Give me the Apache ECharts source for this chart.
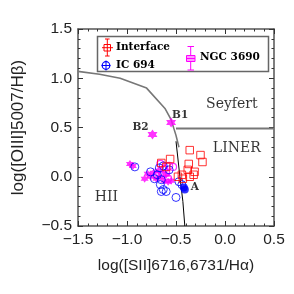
<!DOCTYPE html>
<html><head><meta charset="utf-8">
<script src="https://cdn.jsdelivr.net/npm/echarts@6/dist/echarts.min.js"></script>
<style>html,body{margin:0;padding:0;background:#fff}#c{width:294px;height:294px}</style>
</head><body><div id="c"></div>
<script>
// ---- data ----
const xTicks = [-1.5, -1.0, -0.5, 0.0, 0.5];
const yTicks = [-0.5, 0.0, 0.5, 1.0, 1.5];
const interfacePts = [[-0.36,0.27],[-0.25,0.22],[-0.23,0.15],[-0.37,0.13],[-0.56,0.18],[-0.65,0.14],[-0.38,0.07],[-0.31,0.05],[-0.32,0.02],[-0.44,0.02],[-0.36,0.0],[-0.43,-0.02],[-0.60,0.10],[-0.48,0.0]];
const ic694Open = [[-0.92,0.10],[-0.67,0.09],[-0.63,0.11],[-0.76,0.05],[-0.72,-0.02],[-0.65,-0.03],[-0.66,-0.08],[-0.63,-0.13],[-0.60,-0.15],[-0.65,-0.15],[-0.50,-0.21],[-0.47,-0.05],[-0.44,-0.08],[-0.57,0.07],[-0.69,0.02]];
const ic694Filled = [[-0.41,-0.13],[-0.42,-0.11]];
const ngcStars = [[-0.97,0.13],[-0.94,0.11],[-0.82,-0.02],[-0.79,0.03],[-0.76,0.0],[-0.73,0.04],[-0.70,-0.02],[-0.66,0.0],[-0.62,-0.04],[-0.58,-0.05],[-0.55,-0.04],[-0.68,0.06],[-0.60,0.02]];
const ngcOpen = [[-0.66,0.13],[-0.62,0.08],[-0.57,0.11],[-0.60,0.04],[-0.64,0.02],[-0.70,0.01],[-0.58,-0.02],[-0.53,0.10]];
const bPoints = [[-0.55,0.55,'B1'],[-0.74,0.43,'B2']];
const curveGray = [[-1.5,1.07],[-1.28,1.04],[-1.07,1.0],[-0.80,0.90],[-0.61,0.69],[-0.55,0.58],[-0.50,0.42],[-0.47,0.30]];
const curveBlack = [[-0.50,0.36],[-0.46,0.0],[-0.43,-0.25],[-0.41,-0.5]];
const seyfertLine = [[-0.50,0.49],[0.5,0.49]];
const regionLabels = [[0.07,0.74,'Seyfert'],[0.12,0.29,'LINER'],[-1.21,-0.21,'HII']];
const pointLabels = [[-0.41,-0.13,'A']];

const star = 'path://M0,-10 L2.9,-5 L8.66,-5 L5.77,0 L8.66,5 L2.9,5 L0,10 L-2.9,5 L-8.66,5 L-5.77,0 L-8.66,-5 L-2.9,-5 Z';
const fmt = v => v.toFixed(1).replace('-', '\u2212');
const sans = 'Liberation Sans';
const serif = 'DejaVu Serif';
const axisCol = '#555';

const chart = echarts.init(document.getElementById('c'), null, {renderer:'canvas'});
const baseAxis = (pos, show) => ({
  type:'value', position:pos,
  axisLine:{show:true, onZero:false, lineStyle:{color:axisCol, width:1.5}},
  axisTick:{show:true, inside:true, length:5, lineStyle:{color:'#333', width:1}},
  minorTick:{show:true, splitNumber:5, length:2.5, lineStyle:{color:'#333', width:1}},
  splitLine:{show:false},
  axisLabel:{show:show, formatter:fmt, fontFamily:sans, fontSize:15.5, color:'#222'}
});
const xA = Object.assign(baseAxis('bottom', true), {min:xTicks[0], max:xTicks[xTicks.length-1], interval:0.5,
  name:'log([SII]6716,6731/H\u03b1)', nameLocation:'middle', nameGap:32,
  nameTextStyle:{fontFamily:sans, fontSize:15.5, color:'#222'}});
xA.axisLabel.margin = 6;
const xB = Object.assign(baseAxis('top', false), {min:-1.5, max:0.5, interval:0.5});
const yA = Object.assign(baseAxis('left', true), {min:yTicks[0], max:yTicks[yTicks.length-1], interval:0.5,
  name:'log([OIII]5007/H\u03b2)', nameLocation:'middle', nameGap:51,
  nameTextStyle:{fontFamily:sans, fontSize:17, color:'#222'}});
yA.axisLabel.margin = 6;
const yB = Object.assign(baseAxis('right', false), {min:-0.5, max:1.5, interval:0.5});

const lineS = (d, col, w) => ({type:'line', data:d, xAxisIndex:0, yAxisIndex:0, symbol:'none', lineStyle:{color:col, width:w}, silent:true, z:1});

chart.setOption({
  animation:false,
  grid:{left:78, right:20, top:29, bottom:68},
  xAxis:[xA, xB], yAxis:[yA, yB],
  series:[
    lineS(curveGray, '#777', 1.6),
    lineS(curveBlack, '#000', 1),
    lineS(seyfertLine, '#777', 2),
    {type:'scatter', data:ngcStars, symbol:star, symbolSize:8, itemStyle:{color:'#ff00ff'}, z:3},
    {type:'scatter', data:ngcOpen, symbol:'circle', symbolSize:7, itemStyle:{color:'none', borderColor:'#ff00ff', borderWidth:1.2}, z:3},
    {type:'scatter', data:ic694Open, symbol:'circle', symbolSize:8, itemStyle:{color:'none', borderColor:'#0000ff', borderWidth:1}, z:4},
    {type:'scatter', data:interfacePts, symbol:'rect', symbolSize:7.5, itemStyle:{color:'none', borderColor:'#ff0000', borderWidth:1}, z:4},
    {type:'scatter', data:ic694Filled, symbol:'circle', symbolSize:8, itemStyle:{color:'#0000ff'}, z:5},
    {type:'scatter', data:bPoints, symbol:star, symbolSize:10, itemStyle:{color:'#ff00ff'}, z:5,
      label:{show:true, formatter:p=>p.data[2], position:'inside', color:'#000', fontFamily:serif, fontSize:10.5, fontWeight:'bold'},
      labelLayout:p=>({dx: p.dataIndex===0 ? 9 : -12, dy: -7})},
    {type:'scatter', data:pointLabels, symbolSize:0, label:{show:true, formatter:p=>p.data[2], position:'right', distance:6, offset:[0,-2], color:'#000', fontFamily:serif, fontSize:10.5, fontWeight:'bold'}, z:6},
    {type:'scatter', data:regionLabels, symbolSize:0, label:{show:true, formatter:p=>p.data[2], position:'inside', color:'#000', fontFamily:serif, fontSize:14}, z:6}
  ],
  graphic:[
    {type:'rect', shape:{x:97.5, y:36.5, width:171, height:35}, style:{fill:'#fff', stroke:'#666', lineWidth:1.5}, z:10},
    // Interface symbol
    {type:'line', shape:{x1:107.3, y1:39, x2:107.3, y2:56}, style:{stroke:'#ff0000', lineWidth:1}, z:11},
    {type:'line', shape:{x1:105, y1:39, x2:109.6, y2:39}, style:{stroke:'#ff0000', lineWidth:1}, z:11},
    {type:'line', shape:{x1:105, y1:56, x2:109.6, y2:56}, style:{stroke:'#ff0000', lineWidth:1}, z:11},
    {type:'line', shape:{x1:102, y1:47.7, x2:113, y2:47.7}, style:{stroke:'#ff0000', lineWidth:1}, z:11},
    {type:'rect', shape:{x:104, y:44.5, width:6.5, height:6.5}, style:{fill:'none', stroke:'#ff0000', lineWidth:1}, z:11},
    {type:'text', style:{x:116, y:47.5, text:'Interface', fill:'#000', font:'bold 10.5px "DejaVu Serif"', textVerticalAlign:'middle'}, z:11},
    // IC 694 symbol
    {type:'circle', shape:{cx:106, cy:65.5, r:3.8}, style:{fill:'none', stroke:'#0000ff', lineWidth:1.2}, z:11},
    {type:'line', shape:{x1:106, y1:60.5, x2:106, y2:70.5}, style:{stroke:'#0000ff', lineWidth:1}, z:11},
    {type:'line', shape:{x1:101.5, y1:65.5, x2:110.5, y2:65.5}, style:{stroke:'#0000ff', lineWidth:1}, z:11},
    {type:'text', style:{x:116, y:65, text:'IC 694', fill:'#000', font:'bold 10.5px "DejaVu Serif"', textVerticalAlign:'middle'}, z:11},
    // NGC 3690 symbol
    {type:'line', shape:{x1:190.7, y1:46.5, x2:190.7, y2:70}, style:{stroke:'#ff00ff', lineWidth:1}, z:11},
    {type:'line', shape:{x1:187.5, y1:46.5, x2:194, y2:46.5}, style:{stroke:'#ff00ff', lineWidth:1}, z:11},
    {type:'line', shape:{x1:187.5, y1:70, x2:194, y2:70}, style:{stroke:'#ff00ff', lineWidth:1}, z:11},
    {type:'rect', shape:{x:186.5, y:55.5, width:8.5, height:6}, style:{fill:'#ff99ff', stroke:'#ff00ff', lineWidth:1}, z:11},
    {type:'line', shape:{x1:186.5, y1:58.5, x2:195, y2:58.5}, style:{stroke:'#ff00ff', lineWidth:1}, z:12},
    {type:'text', style:{x:200, y:57.5, text:'NGC 3690', fill:'#000', font:'bold 10.5px "DejaVu Serif"', textVerticalAlign:'middle'}, z:11}
  ]
});
</script></body></html>
